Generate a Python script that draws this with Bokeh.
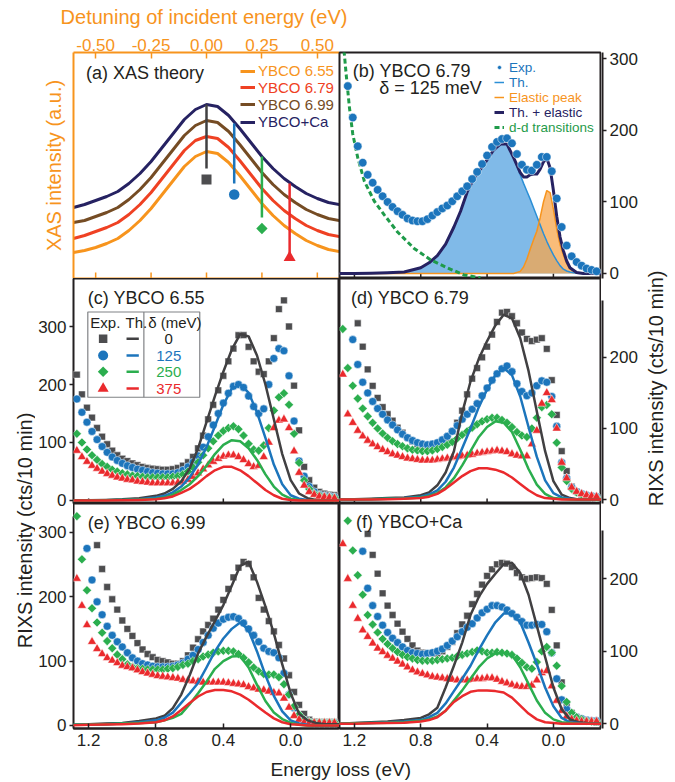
import math
from bokeh.plotting import figure
from bokeh.layouts import row, column
from bokeh.models import (Range1d, LinearAxis, FixedTicker, PrintfTickFormatter,
                          Legend, LegendItem, Label)
from bokeh.core.properties import value
from bokeh.embed import file_html
from bokeh.resources import INLINE

nan = float("nan")

# ---------------------------------------------------------------- data
# (a) XAS theory, detuning of incident energy (eV)
xas_detuning = [-0.60, -0.55, -0.50, -0.45, -0.40, -0.35, -0.30, -0.25, -0.20, -0.15,
                -0.10, -0.05, 0.00, 0.05, 0.10, 0.15, 0.20, 0.25, 0.30, 0.35,
                0.40, 0.45, 0.50, 0.55, 0.60]
xas_655 = [26, 28, 31, 35, 40, 48, 58, 70, 84, 98, 112, 122, 127, 125, 116, 103, 89, 75, 63, 53, 45, 38, 33, 29, 27]
xas_679 = [40, 43, 47, 51, 56, 64, 74, 86, 100, 114, 128, 138, 142, 140, 131, 118, 104, 90, 78, 68, 60, 53, 48, 44, 42]
xas_699 = [56, 58, 62, 66, 71, 79, 89, 101, 115, 129, 143, 153, 158, 156, 147, 134, 120, 106, 94, 84, 76, 69, 64, 60, 58]
xas_ca = [71, 74, 78, 82, 87, 95, 105, 117, 131, 145, 159, 169, 174, 172, 163, 150, 136, 122, 110, 100, 92, 85, 80, 76, 74]
xas_delta = [0.0, 0.125, 0.25, 0.375]          # detuning delta (eV)
xas_drop_top = [174, 155, 122, 95]
xas_drop_bottom = [110, 95, 61, 25]
xas_marker_y = [99, 84, 50, 21]
detuning_ticks = [-0.5, -0.25, 0.0, 0.25, 0.5]

# energy loss grids (eV)
energy_exp = [1.27, 1.24, 1.21, 1.18, 1.15, 1.12, 1.09, 1.06, 1.03, 1.00,
              0.97, 0.94, 0.91, 0.88, 0.85, 0.82, 0.79, 0.76, 0.73, 0.70,
              0.67, 0.64, 0.61, 0.58, 0.55, 0.52, 0.49, 0.46, 0.43, 0.40,
              0.37, 0.34, 0.31, 0.28, 0.25, 0.22, 0.19, 0.16, 0.13, 0.10,
              0.07, 0.04, 0.01, -0.02, -0.05, -0.08, -0.11, -0.14, -0.17, -0.20,
              -0.23, -0.26]
energy_th = [1.30, 1.20, 1.10, 1.00, 0.90, 0.80, 0.75, 0.70, 0.65, 0.60,
             0.55, 0.50, 0.45, 0.40, 0.35, 0.30, 0.25, 0.20, 0.15, 0.10,
             0.05, 0.00, -0.05, -0.10, -0.15, -0.20, -0.30]
loss_ticks = [1.2, 0.8, 0.4, 0.0]

# (b) YBCO 6.79, delta = 125 meV
b_exp = [nan, 262, 218, 178, 155, 138, 127, 117, 108, 100,
         93, 87, 82, 77, 74, 73, 73, 76, 81, 86,
         91, 95, 101, 108, 115, 122, 132, 142, 153, 165,
         177, 184, 188, 189, 182, 167, 152, 145, 144, 152,
         163, 163, 143, 105, 65, 39, 24, 16, 11, 7,
         5, 3]
b_energy_th = [1.30, 1.20, 1.10, 1.00, 0.90, 0.80, 0.75, 0.70, 0.65, 0.60,
               0.56, 0.52, 0.48, 0.44, 0.40, 0.36, 0.32, 0.28, 0.24, 0.20,
               0.18, 0.16, 0.14, 0.12, 0.10, 0.08, 0.06, 0.04, 0.02, 0.00,
               -0.02, -0.04, -0.06, -0.08, -0.10, -0.14, -0.18, -0.22, -0.30]
b_th = [0, 0, 0.5, 1, 2, 8, 15, 25, 41, 65,
        87, 114, 133, 146, 159, 173, 181, 181, 162, 138,
        126, 115, 104, 92, 80, 68, 56, 45, 35, 26,
        18, 11, 6, 3.5, 2, 0.5, 0, 0, 0]
b_elastic = [0, 0, 0, 0, 0, 0, 0, 0, 0, 0,
             0, 0, 0, 0, 0, 0, 0, 0, 0, 3,
             9, 20, 34, 47, 59, 78, 100, 116, 113, 90,
             62, 40, 26, 14, 6, 1, 0, 0, 0]
b_dd_energy = [1.28, 1.26, 1.25, 1.23, 1.21, 1.18, 1.14, 1.08, 1.02, 0.94, 0.84, 0.74, 0.64, 0.54, 0.44]
b_dd = [345, 305, 279, 232, 195, 162, 129, 101, 82, 58, 35, 19, 8, -2, -6]

# (c) YBCO 6.55
exp_c_gray = [217, 183, 160, 143, 125, 110, 97, 86, 78, 72, 68, 64, 61, 58, 56, 55, 54, 53, 53, 54,
              56, 60, 66, 75, 90, 112, 140, 165, 190, 215, 240, 262, 285, 285, 265, 240, 222, 218, 240, 280,
              330, 345, 300, 198, 121, 58, 35, 22, 15, 12, 10, 9]
exp_c_blue = [175, 152, 135, 119, 105, 93, 83, 75, 69, 64, 60, 57, 54, 52, 50, 48, 47, 46, 46, 46,
              48, 52, 58, 66, 77, 92, 110, 130, 150, 168, 185, 197, 200, 195, 180, 162, 150, 158, 200, 245,
              262, 258, 215, 137, 68, 42, 24, 15, 10, 8, 7, 6]
exp_c_green = [115, 100, 88, 78, 70, 63, 58, 53, 50, 47, 45, 43, 42, 41, 40, 40, 40, 40, 40, 41,
               42, 45, 50, 57, 66, 78, 90, 102, 112, 120, 125, 128, 123, 112, 98, 88, 86, 95, 125, 155,
               178, 185, 165, 115, 65, 35, 20, 12, 9, 7, 6, 5]
exp_c_red = [86, 75, 67, 60, 55, 50, 46, 43, 40, 38, 36, 35, 33, 32, 31, 30, 30, 30, 30, 30,
             31, 33, 36, 41, 47, 54, 61, 67, 72, 76, 78, 78, 75, 70, 63, 58, 60, 75, 100, 125,
             138, 140, 125, 85, 48, 26, 15, 10, 7, 6, 5, 4]
th_c_gray = [0, 0.5, 1, 2, 4, 8, 12, 20, 33, 55, 90, 135, 180, 222, 260, 287, 283, 250, 200, 140, 80, 35, 12, 4, 1, 0, 0]
th_c_blue = [0, 0, 0.5, 1, 2, 5, 8, 14, 24, 40, 62, 92, 128, 165, 193, 200, 186, 152, 108, 62, 28, 9, 3, 1, 0, 0, 0]
th_c_green = [0, 0, 0.5, 1, 1.5, 3, 5, 10, 18, 28, 42, 60, 80, 96, 104, 102, 90, 70, 45, 24, 10, 3, 1, 0, 0, 0, 0]
th_c_red = [0, 0, 0, 0.5, 1, 2, 4, 7, 13, 20, 30, 42, 52, 58, 58, 52, 42, 30, 18, 9, 3, 1, 0, 0, 0, 0, 0]

# (d) YBCO 6.79
exp_d_gray = [nan, nan, nan, 248, 215, 183, 160, 143, 130, 120, 111, 101, 94, 87, 82, 78, 75, 74, 75, 77,
              81, 87, 96, 108, 125, 148, 170, 185, 200, 215, 232, 250, 263, 264, 258, 248, 235, 226, 223, 225,
              227, 212, 168, 119, 68, 40, 18, 11, 7, 5, 4, 3]
exp_d_blue = [nan, nan, 225, 190, 165, 150, 138, 128, 120, 112, 105, 98, 92, 87, 83, 80, 78, 77, 78, 80,
              84, 89, 96, 104, 113, 120, 127, 135, 146, 157, 168, 177, 184, 188, 180, 163, 152, 146, 150, 160,
              167, 165, 145, 103, 52, 30, 17, 11, 8, 6, 5, 4]
exp_d_green = [240, 185, 160, 142, 128, 117, 108, 100, 93, 87, 82, 78, 75, 72, 70, 69, 68, 68, 69, 71,
               74, 77, 81, 86, 91, 96, 101, 106, 110, 113, 115, 115, 112, 108, 102, 95, 90, 88, 100, 115,
               130, 133, 120, 80, 45, 26, 15, 10, 7, 5, 4, 3]
exp_d_red = [176, 120, 108, 97, 89, 83, 78, 74, 70, 67, 64, 62, 60, 58, 57, 56, 55, 55, 55, 56,
             57, 58, 59, 60, 61, 62, 63, 65, 66, 67, 68, 69, 68, 67, 64, 62, 61, 61, 78, 97,
             135, 150, 140, 100, 52, 30, 17, 11, 8, 6, 5, 4]
th_d_gray = [0, 0.5, 1, 2, 3, 6, 10, 20, 38, 68, 122, 166, 198, 223, 245, 260, 255, 227, 181, 124, 68, 26, 7, 2, 0, 0, 0]
th_d_blue = [0, 0, 0.5, 1, 2, 4, 7, 13, 25, 45, 72, 100, 130, 155, 175, 185, 175, 145, 102, 60, 27, 9, 3, 1, 0, 0, 0]
th_d_green = [0, 0, 0.5, 1, 1.5, 3, 5, 9, 17, 30, 48, 68, 88, 102, 110, 108, 95, 70, 43, 21, 8, 2, 1, 0, 0, 0, 0]
th_d_red = [0, 0, 0, 0.5, 1, 2, 4, 8, 15, 24, 33, 40, 44, 44, 42, 38, 31, 22, 13, 6, 2, 1, 0, 0, 0, 0, 0]

# (e) YBCO 6.99
exp_e_gray = [nan, nan, nan, nan, 280, 243, 215, 196, 180, 163, 150, 139, 128, 118, 111, 106, 102, 100, 98, 96,
              96, 100, 109, 121, 134, 146, 156, 166, 180, 195, 212, 230, 245, 254, 251, 230, 198, 180, 162, 146,
              125, 104, 78, 52, 32, 18, 9, 6, 5, 5, 5, 5]
exp_e_blue = [nan, nan, 275, 226, 192, 172, 154, 140, 130, 122, 113, 105, 100, 96, 94, 92, 91, 91, 91, 92,
              94, 97, 103, 109, 118, 129, 140, 151, 159, 165, 168, 169, 166, 159, 150, 140, 130, 120, 115, 113,
              105, 81, 48, 27, 15, 8, 5, 4, 4, 4, 4, 4]
exp_e_green = [325, 258, 210, 182, 160, 144, 131, 120, 110, 103, 95, 91, 89, 88, 87, 87, 87, 87, 88, 89,
               91, 94, 96, 100, 103, 107, 110, 113, 115, 116, 116, 115, 111, 105, 98, 90, 84, 80, 79, 79,
               75, 64, 48, 30, 17, 9, 6, 5, 5, 5, 5, 5]
exp_e_red = [228, 186, 156, 130, 119, 111, 105, 101, 97, 93, 91, 89, 86, 83, 81, 79, 77, 76, 75, 74,
             73, 71, 70, 69, 68, 67, 67, 67, 67, 67, 66, 65, 64, 63, 60, 58, 56, 55, 53, 51,
             50, 42, 28, 15, 9, 5, 4, 4, 4, 4, 4, 4]
th_e_gray = [1, 2, 3, 4, 7, 11, 15, 27, 48, 78, 112, 138, 162, 187, 217, 248, 254, 223, 185, 143, 95, 50, 18, 8, 4, 2, 2]
th_e_blue = [1, 1.5, 2, 3, 5, 8, 12, 20, 35, 50, 66, 90, 115, 135, 150, 160, 148, 115, 78, 46, 22, 8, 3, 1, 0, 0, 0]
th_e_green = [1, 1.5, 2, 3, 4, 5, 8, 12, 18, 33, 50, 68, 88, 100, 107, 108, 90, 63, 38, 20, 10, 4, 1, 0, 0, 0, 0]
th_e_red = [0.5, 1, 1.5, 2, 3, 5, 8, 14, 24, 35, 45, 52, 55, 55, 53, 48, 40, 30, 20, 11, 5, 2, 1, 0, 0, 0, 0]

# (f) YBCO+Ca
exp_f_gray = [nan, nan, nan, nan, nan, 262, 233, 207, 180, 163, 150, 138, 127, 117, 108, 101, 98, 97, 97, 97,
              100, 106, 113, 125, 137, 149, 165, 179, 192, 204, 213, 220, 222, 221, 216, 208, 202, 200, 201, 202,
              201, 193, 157, 108, 57, 28, 15, 9, 6, 4, 3, 2]
exp_f_blue = [nan, nan, nan, nan, 238, 187, 163, 148, 136, 126, 118, 112, 106, 101, 98, 97, 96, 97, 98, 100,
              103, 108, 114, 120, 127, 133, 138, 146, 153, 158, 163, 163, 161, 157, 152, 147, 141, 136, 136, 137,
              137, 127, 98, 62, 33, 20, 13, 9, 7, 5, 4, 4]
exp_f_green = [nan, 280, 239, 205, 178, 150, 137, 126, 117, 110, 104, 99, 95, 92, 90, 88, 87, 87, 87, 88,
               89, 90, 91, 93, 95, 97, 99, 101, 100, 98, 98, 99, 98, 97, 95, 90, 84, 78, 76, 85,
               100, 106, 98, 80, 52, 30, 15, 9, 6, 4, 3, 3]
exp_f_red = [248, 200, 163, 145, 129, 120, 111, 104, 99, 94, 90, 86, 82, 78, 74, 71, 69, 67, 65, 64,
             63, 62, 61, 60, 60, 60, 61, 62, 62, 63, 63, 61, 58, 56, 54, 52, 51, 51, 53, 60,
             70, 73, 52, 32, 18, 10, 6, 4, 3, 3, 3, 3]
th_f_gray = [0, 1, 2, 3, 5, 8, 13, 22, 50, 80, 112, 150, 175, 193, 207, 220, 222, 208, 178, 135, 92, 50, 20, 6, 2, 1, 0]
th_f_blue = [0, 0.5, 1, 2, 3, 5, 9, 15, 28, 45, 62, 80, 102, 122, 140, 152, 152, 140, 112, 82, 50, 24, 8, 2, 1, 0, 0]
th_f_green = [0, 0.5, 1, 1.5, 2, 4, 6, 10, 18, 32, 46, 62, 78, 90, 97, 98, 95, 78, 55, 32, 15, 6, 2, 1, 0, 0, 0]
th_f_red = [0, 0, 0.5, 1, 1.5, 3, 5, 9, 18, 30, 38, 44, 46, 46, 45, 43, 36, 25, 14, 6, 2, 1, 0, 0, 0, 0, 0]

delta_labels = ["0", "125", "250", "375"]
rixs_ticks_tall = [0, 100, 200, 300]
rixs_ticks_short = [0, 100, 200]

# ---------------------------------------------------------------- style
FONT = "Liberation Sans"
INK = "#231f20"
ORANGE = "#f7941d"
GRAY = "#4d4d4f"
GRAY_LINE = "#414042"
BLUE = "#1c75bc"
GREEN = "#2bae4e"
RED = "#ea2a2d"
XAS_COLORS = ["#f7941d", "#ef4123", "#754c24", "#262262"]
DELTA_COLORS = [GRAY_LINE, BLUE, GREEN, RED]

# page geometry (pixels from the top of the page)
TITLE_H = 30
TOP_BORDER = 22
TOP_FRAME = 226
ROW_FRAME = 225
XAXIS_H = 28
TOP_Y = TITLE_H + TOP_BORDER          # top of panels (a), (b)
MID_Y = TOP_Y + TOP_FRAME             # top of panels (c), (d)
LOW_Y = MID_Y + ROW_FRAME             # top of panels (e), (f)


def base_fig(width, height, x_range, y_range, left=0, right=0, top=0, bottom=0):
    p = figure(width=width, height=height, x_range=x_range, y_range=y_range,
               output_backend="svg", toolbar_location=None,
               x_axis_location=None, y_axis_location=None,
               min_border_left=left, min_border_right=right,
               min_border_top=top, min_border_bottom=bottom)
    p.grid.visible = False
    p.outline_line_color = INK
    p.outline_line_width = 2
    p.background_fill_color = "white"
    p.border_fill_color = "white"
    return p


def add_axis(p, side, ticks, tick_in=0, tick_out=0, color=INK, text_color=INK,
             fmt="%d", standoff=3, axis_label=None, label_standoff=5, label_size="19px",
             bounds="auto"):
    ax = LinearAxis(ticker=FixedTicker(ticks=ticks),
                    formatter=PrintfTickFormatter(format=fmt),
                    axis_line_color=color, axis_line_width=2,
                    major_tick_line_color=color if ticks else None,
                    major_tick_line_width=1.5,
                    major_tick_in=tick_in, major_tick_out=tick_out,
                    minor_tick_line_color=None,
                    major_label_text_font=FONT,
                    major_label_text_font_size="17px",
                    major_label_text_color=text_color,
                    major_label_standoff=standoff,
                    bounds=bounds)
    if axis_label:
        ax.axis_label = axis_label
        ax.axis_label_text_font = FONT
        ax.axis_label_text_font_size = label_size
        ax.axis_label_text_font_style = "normal"
        ax.axis_label_text_color = text_color
        ax.axis_label_standoff = label_standoff
    p.add_layout(ax, side)
    return ax


def bottom_ticks(p, ticks, frame_h, length_px=5, color=INK):
    """Short inward tick marks along the lower edge of a panel without labels."""
    yr = p.y_range
    rise = (yr.end - yr.start) * length_px / frame_h
    n = len(ticks)
    p.segment(x0=ticks, y0=[yr.start] * n, x1=ticks, y1=[yr.start + rise] * n,
              line_color=color, line_width=1.5)


def value_axis_strip(panel, frame_top, frame_h, strip_top, strip_h, side, ticks, width):
    """A narrow figure carrying a panel's count axis, sharing that panel's scale.

    The strip is taller than the panel so that tick labels near a panel edge
    are not clipped by the panel's own canvas."""
    yr = panel.y_range
    per_px = (yr.end - yr.start) / frame_h
    top_val = yr.end + (frame_top - strip_top) * per_px
    bottom_val = yr.end - (strip_top + strip_h - frame_top) * per_px
    s = figure(width=width, height=strip_h, x_range=Range1d(0, 1),
               y_range=Range1d(bottom_val, top_val),
               output_backend="svg", toolbar_location=None,
               x_axis_location=None, y_axis_location=None,
               min_border_left=(width - 1) if side == "left" else 0,
               min_border_right=(width - 1) if side == "right" else 0,
               min_border_top=0, min_border_bottom=0)
    s.grid.visible = False
    s.outline_line_color = None
    s.background_fill_color = "white"
    s.border_fill_color = "white"
    add_axis(s, side, ticks, tick_out=4, bounds=(yr.start, yr.end))
    return s


def add_text(p, x, y, text, size="18px", color=INK, align="left"):
    p.add_layout(Label(x=x, y=y, text=text, text_font=FONT, text_font_size=size,
                       text_color=color, text_align=align, text_baseline="middle"))


def single_legend(p, label, renderer, color, loc, size="15px", glyph_width=15, standoff=3):
    p.add_layout(Legend(items=[LegendItem(label=label, renderers=[renderer])],
                        location=loc, orientation="vertical",
                        background_fill_alpha=0, border_line_color=None,
                        padding=0, spacing=0, margin=0,
                        glyph_width=glyph_width, glyph_height=10, label_height=10,
                        label_standoff=standoff, label_text_font=FONT,
                        label_text_font_size=size, label_text_color=color))


def rixs_panel(p, exp, th):
    styles = [("square", 6.8, 0.0, GRAY), ("circle", 8.0, 0.0, BLUE),
              ("square", 6.4, math.pi / 4, GREEN), ("triangle", 9.0, 0.0, RED)]
    for values, (marker, size, angle, col) in zip(exp, styles):
        p.scatter(energy_exp, values, marker=marker, size=size, angle=angle,
                  fill_color=col, line_color="white", line_width=0.5)
    for values, col in zip(th, DELTA_COLORS):
        p.line(energy_th, values, line_color=col, line_width=2.5, line_join="round")


def title_fig(width, height, text, x, y, angle=0.0, size="20px", color=INK):
    t = figure(width=width, height=height, x_range=Range1d(0, 1), y_range=Range1d(0, 1),
               output_backend="svg", toolbar_location=None,
               x_axis_location=None, y_axis_location=None,
               min_border_left=0, min_border_right=0, min_border_top=0, min_border_bottom=0)
    t.grid.visible = False
    t.outline_line_color = None
    t.background_fill_color = "white"
    t.border_fill_color = "white"
    t.add_layout(Label(x=x, y=y, text=text, angle=angle, text_font=FONT, text_font_size=size,
                       text_color=color, text_align="center", text_baseline="middle"))
    return t


# ---------------------------------------------------------------- (a)
pa = base_fig(339, TOP_BORDER + TOP_FRAME, Range1d(-0.6, 0.6), Range1d(0, 226),
              left=73, right=0, top=TOP_BORDER, bottom=0)
pa.outline_line_color = None
add_axis(pa, "above", detuning_ticks, tick_in=6, color=ORANGE, text_color=ORANGE, fmt="%.2f", standoff=2)
add_axis(pa, "below", [], color=ORANGE)
add_axis(pa, "left", [], color=ORANGE, text_color=ORANGE,
         axis_label="XAS intensity (a.u.)", label_standoff=9, label_size="20px")
add_axis(pa, "right", [], color=INK)
bottom_ticks(pa, detuning_ticks, TOP_FRAME, length_px=6, color=ORANGE)

xas_curves = [("YBCO 6.55", xas_655), ("YBCO 6.79", xas_679), ("YBCO 6.99", xas_699), ("YBCO+Ca", xas_ca)]
xas_legend_y = [198.7, 182.1, 165.4, 147.7]
for (name, ys), col, ly in zip(xas_curves, XAS_COLORS, xas_legend_y):
    r = pa.line(xas_detuning, ys, line_color=col, line_width=3)
    single_legend(pa, name, r, col, (167, ly))

pa.segment(x0=xas_delta, y0=xas_drop_bottom, x1=xas_delta, y1=xas_drop_top,
           line_color=DELTA_COLORS, line_width=2.5)
pa.scatter(x=xas_delta, y=xas_marker_y,
           marker=["square", "circle", "square", "triangle"],
           size=[10, 10.5, 8, 12], angle=[0, 0, math.pi / 4, 0],
           fill_color=[GRAY, BLUE, GREEN, RED], line_color=None)
add_text(pa, -0.544, 205.5, "(a) XAS theory")

# ---------------------------------------------------------------- (b)
pb = base_fig(262, TOP_BORDER + TOP_FRAME, Range1d(1.29, -0.29), Range1d(-7, 309),
              left=0, right=0, top=TOP_BORDER, bottom=0)
bottom_ticks(pb, loss_ticks, TOP_FRAME)

b_total = [t + e for t, e in zip(b_th, b_elastic)]
pb.varea(x=b_energy_th, y1=[0] * len(b_th), y2=b_th, fill_color="#72b2e6", fill_alpha=0.9)
pb.varea(x=b_energy_th, y1=[0] * len(b_elastic), y2=b_elastic, fill_color="#f7a64c", fill_alpha=0.75)
r_th = pb.line(b_energy_th, b_th, line_color="#2b8fd6", line_width=1.5)
r_el = pb.line(b_energy_th, b_elastic, line_color=ORANGE, line_width=1.5)
r_tot = pb.line(b_energy_th, b_total, line_color="#262262", line_width=3, line_join="round")
r_dd = pb.line(b_dd_energy, b_dd, line_color="#1f9b4a", line_width=3, line_dash="5 3")
r_exp = pb.scatter(energy_exp, b_exp, marker="circle", size=8.5, fill_color=BLUE, line_color="white",
                   line_width=0.5)
b_items = [("Exp.", r_exp, BLUE, 203.5), ("Th.", r_th, BLUE, 188.5),
           ("Elastic peak", r_el, ORANGE, 173.5), ("Th. + elastic", r_tot, "#262262", 158.5),
           ("d-d transitions", r_dd, "#1f9b4a", 143.5)]
for name, r, col, ly in b_items:
    single_legend(pb, name, r, col, (155, ly), size="13.5px", glyph_width=10, standoff=5)
add_text(pb, 1.21, 282.5, "(b) YBCO 6.79")
add_text(pb, 1.05, 260, "\u03b4 = 125 meV")

# ---------------------------------------------------------------- (c)
pc = base_fig(266, ROW_FRAME, Range1d(1.29, -0.29), Range1d(-5.2, 382.8))
bottom_ticks(pc, loss_ticks, ROW_FRAME)
rixs_panel(pc, [exp_c_gray, exp_c_blue, exp_c_green, exp_c_red],
           [th_c_gray, th_c_blue, th_c_green, th_c_red])
add_text(pc, 1.205, 350, "(c) YBCO 6.55")

# key table: experiment markers, theory lines, delta values
key_rows = [279, 250, 222, 193]
pc.quad(left=[1.205], right=[0.54], bottom=[178], top=[325], fill_color=None,
        line_color="#808285", line_width=1.2)
pc.segment(x0=[0.872], y0=[178], x1=[0.872], y1=[325], line_color="#808285", line_width=1.2)
add_text(pc, 1.19, 307, "Exp.", size="15px")
add_text(pc, 0.981, 307, "Th.", size="15px")
add_text(pc, 0.846, 307, "\u03b4 (meV)", size="15px")
pc.scatter(x=[1.114] * 4, y=key_rows, marker=["square", "circle", "square", "triangle"],
           size=[8.5, 10, 7.5, 11], angle=[0, 0, math.pi / 4, 0],
           fill_color=[GRAY, BLUE, GREEN, RED], line_color=None)
pc.segment(x0=[0.975] * 4, y0=key_rows, x1=[0.902] * 4, y1=key_rows,
           line_color=DELTA_COLORS, line_width=2.5)
pc.text(x=[0.724] * 4, y=key_rows, text=delta_labels, text_color=[INK, BLUE, GREEN, RED],
        text_align="center", text_baseline="middle", text_font=value(FONT), text_font_size="15px")

# ---------------------------------------------------------------- (d)
pd_ = base_fig(262, ROW_FRAME, Range1d(1.29, -0.29), Range1d(-5.6, 311))
bottom_ticks(pd_, loss_ticks, ROW_FRAME)
rixs_panel(pd_, [exp_d_gray, exp_d_blue, exp_d_green, exp_d_red],
           [th_d_gray, th_d_blue, th_d_green, th_d_red])
add_text(pd_, 1.22, 284, "(d) YBCO 6.79")

# ---------------------------------------------------------------- (e)
pe = base_fig(266, ROW_FRAME + XAXIS_H, Range1d(1.29, -0.29), Range1d(-4.7, 344.7), bottom=XAXIS_H)
add_axis(pe, "below", loss_ticks, tick_in=5, fmt="%.1f", standoff=5)
rixs_panel(pe, [exp_e_gray, exp_e_blue, exp_e_green, exp_e_red],
           [th_e_gray, th_e_blue, th_e_green, th_e_red])
add_text(pe, 1.205, 315, "(e) YBCO 6.99")

# ---------------------------------------------------------------- (f)
pf = base_fig(262, ROW_FRAME + XAXIS_H, Range1d(1.29, -0.29), Range1d(-6.6, 303.9), bottom=XAXIS_H)
add_axis(pf, "below", loss_ticks, tick_in=5, fmt="%.1f", standoff=5)
rixs_panel(pf, [exp_f_gray, exp_f_blue, exp_f_green, exp_f_red],
           [th_f_gray, th_f_blue, th_f_green, th_f_red])
add_text(pf, 1.19, 278, "(f) YBCO+Ca")

# ---------------------------------------------------------------- count axes
SPLIT_CE = 516        # boundary between the (c) and (e) axis strips
SPLIT_BD = 300        # boundary between the (b) and (d) axis strips
SPLIT_DF = 530        # boundary between the (d) and (f) axis strips
BOTTOM_Y = LOW_Y + ROW_FRAME + XAXIS_H

axis_c = value_axis_strip(pc, MID_Y, ROW_FRAME, MID_Y, SPLIT_CE - MID_Y, "left", rixs_ticks_tall, 38)
axis_e = value_axis_strip(pe, LOW_Y, ROW_FRAME, SPLIT_CE, BOTTOM_Y - SPLIT_CE, "left", rixs_ticks_tall, 38)
axis_b = value_axis_strip(pb, TOP_Y, TOP_FRAME, TITLE_H, SPLIT_BD - TITLE_H, "right", rixs_ticks_tall, 41)
axis_d = value_axis_strip(pd_, MID_Y, ROW_FRAME, SPLIT_BD, SPLIT_DF - SPLIT_BD, "right", rixs_ticks_short, 41)
axis_f = value_axis_strip(pf, LOW_Y, ROW_FRAME, SPLIT_DF, BOTTOM_Y - SPLIT_DF, "right", rixs_ticks_short, 41)

# ---------------------------------------------------------------- shared axis titles
top_title = title_fig(642, TITLE_H, "Detuning of incident energy (eV)", 0.317, 0.45, size="20px", color=ORANGE)
left_title = title_fig(35, BOTTOM_Y - MID_Y, "RIXS intensity (cts/10 min)", 0.714, 0.473, angle=math.pi / 2)
right_title = title_fig(33, 782, "RIXS intensity (cts/10 min)", 0.424, 0.504, angle=math.pi / 2)
bottom_title = title_fig(642, 782 - BOTTOM_Y, "Energy loss (eV)", 0.53, 0.5, size="19px")

left_block = column(
    pa,
    row(left_title, column(axis_c, axis_e), column(pc, pe)),
)
layout = row(
    column(
        top_title,
        row(left_block, column(pb, pd_, pf), column(axis_b, axis_d, axis_f)),
        bottom_title,
    ),
    right_title,
)

with open("out.html", "w") as fh:
    fh.write(file_html(layout, INLINE, title="RIXS spectra"))
